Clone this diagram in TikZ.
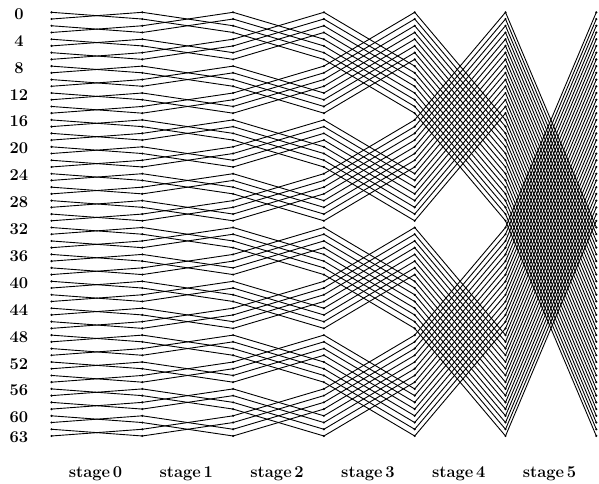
\documentclass[tikz,border=0pt]{standalone}
\begin{document}
\begin{tikzpicture}[x=1pt,y=-1pt]
    \tikzset{pt/.style={shape=circle,fill=black,inner sep=0pt,minimum size=2.4pt},
             wire/.style={line width=0.9pt},
             lbl/.style={font=\fontsize{16.5}{19}\selectfont\bfseries,inner sep=0pt}}
    \useasboundingbox (0,0) rectangle (599,483);

    % points of the seven columns
    \foreach \c in {0,...,6}{
        \foreach \r in {0,...,63}{
            \node[pt] (p\c-\r) at ({51.5+90.8*\c},{12.3+6.725*\r}) {};
        }
    }

    % exchanges of each stage
    \foreach \s in {0,...,5}{
        \pgfmathtruncatemacro{\nxt}{\s+1}
        \pgfmathtruncatemacro{\dist}{2^\s}
        \foreach \r in {0,...,63}{
            \pgfmathtruncatemacro{\other}{mod(floor(\r/\dist),2)==0 ? \r+\dist : \r-\dist}
            \draw[wire] (p\s-\r.center) -- (p\nxt-\other.center);
        }
    }

    % row numbers
    \foreach \r in {0,4,...,60,63}{
        \node[lbl,anchor=base] (n\r) at (19,{19.3+6.725*\r}) {\r};
    }

    % stage names
    \foreach \s in {0,...,5}{
        \node[lbl,anchor=base] (s\s) at ({95.5+90.8*\s},477.5) {stage\,\s};
    }
\end{tikzpicture}
\end{document}
